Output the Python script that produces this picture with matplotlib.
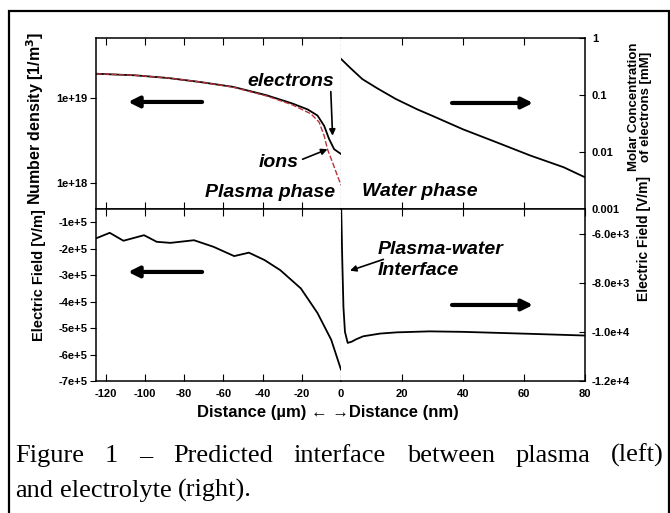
import numpy as np
import matplotlib
matplotlib.use("Agg")
import matplotlib.pyplot as plt
from matplotlib.ticker import NullLocator
from matplotlib.patches import Rectangle

# fonts
plt.rcParams['font.family'] = ['Liberation Sans', 'DejaVu Sans']
plt.rcParams['font.weight'] = 'bold'
plt.rcParams['axes.labelweight'] = 'bold'
plt.rcParams['axes.linewidth'] = 1.1

#=============================
# data
#=============================

# plasma side, number density (x in um)
x_ne_um = [-125, -105, -88, -72, -55, -38, -25, -17, -12, -8.6, -6.1, -3.5, 0]
n_electrons = [1.91e19, 1.83e19, 1.70e19, 1.53e19, 1.34e19, 1.07e19, 8.6e18,
               7.3e18, 6.2e18, 4.7e18, 3.3e18, 2.5e18, 2.2e18]
x_ni_um = [-125, -105, -88, -72, -55, -38, -25, -15.4, -11.2, -8.6, -6.9, -4.3, -1.8, 0]
n_ions = [1.91e19, 1.83e19, 1.70e19, 1.53e19, 1.33e19, 1.05e19, 8.3e18,
          6.5e18, 5.2e18, 3.6e18, 2.5e18, 1.75e18, 1.22e18, 0.95e18]

# water side, molar concentration of electrons (x in nm)
x_conc_nm = [0, 3, 7, 12, 18, 25, 30, 40, 51, 62, 73, 80]
conc_mM = [0.43, 0.30, 0.19, 0.13, 0.085, 0.056, 0.043, 0.025, 0.0148, 0.0087, 0.0054, 0.0036]

# plasma side, electric field
x_ep_um = [-125, -118, -111, -100.5, -94, -87, -75, -65, -54.5, -47, -39, -31, -20.5, -12, -5, 0]
e_plasma = [-1.61e5, -1.40e5, -1.70e5, -1.49e5, -1.74e5, -1.78e5, -1.68e5, -1.93e5,
            -2.28e5, -2.15e5, -2.43e5, -2.81e5, -3.5e5, -4.43e5, -5.44e5, -6.57e5]

# water side, electric field
x_ew_nm = [0, 0.4, 0.8, 1.3, 2.2, 3.5, 5, 7.3, 12.8, 18.3, 29, 40, 51, 62, 80]
e_water = [-4.5e3, -7.0e3, -9.0e3, -1.0e4, -1.045e4, -1.04e4, -1.03e4, -1.018e4,
           -1.007e4, -1.002e4, -9.98e3, -1.0e4, -1.004e4, -1.008e4, -1.015e4]

# ticks
xt_left = [-120, -100, -80, -60, -40, -20]
xt_right = [20, 40, 60, 80]
yt_n = [1e18, 1e19]
yt_n_lab = ['1e+18', '1e+19']
yt_c = [1e-3, 1e-2, 1e-1, 1]
yt_c_lab = ['0.001', '0.01', '0.1', '1']
yt_ep = [-1e5, -2e5, -3e5, -4e5, -5e5, -6e5, -7e5]
yt_ep_lab = ['-1e+5', '-2e+5', '-3e+5', '-4e+5', '-5e+5', '-6e+5', '-7e+5']
yt_ew = [-6e3, -8e3, -1e4, -1.2e4]
yt_ew_lab = ['-6.0e+3', '-8.0e+3', '-1.0e+4', '-1.2e+4']

#=============================
# figure layout
#=============================

W, H = 670, 513
fig = plt.figure(figsize=(W / 100, H / 100), dpi=100)

def box(x0, y0, x1, y1):
    return [x0 / W, 1 - y1 / H, (x1 - x0) / W, (y1 - y0) / H]

ax_nl = fig.add_axes(box(96, 38, 341, 209))
ax_nr = fig.add_axes(box(341, 38, 585, 209))
ax_el = fig.add_axes(box(96, 209, 341, 381))
ax_er = fig.add_axes(box(341, 209, 585, 381))

# outer frame (open at the bottom)
fig.patches.append(Rectangle((9 / W, -0.2), 660 / W, 1.2 - 11 / H, transform=fig.transFigure,
                             fill=False, lw=1.6, ec='black', clip_on=False))

lw = 1.3
ax_nl.plot(x_ne_um, n_electrons, color='black', lw=lw)
ax_nl.plot(x_ni_um, n_ions, color='#b8343c', lw=1.0, ls=(0, (4, 1.5)))
ax_nr.plot(x_conc_nm, conc_mM, color='black', lw=lw)
ax_el.plot(x_ep_um, e_plasma, color='black', lw=lw)
ax_er.plot(x_ew_nm, e_water, color='black', lw=lw)

for ax in (ax_nl, ax_nr):
    ax.set_yscale('log')
    ax.yaxis.set_minor_locator(NullLocator())

ax_nl.set_ylim(5e17, 5e19)
ax_nl.set_yticks(yt_n, yt_n_lab)
ax_nr.set_ylim(1e-3, 1)
ax_nr.set_yticks(yt_c, yt_c_lab)
ax_el.set_ylim(-7e5, -0.5e5)
ax_el.set_yticks(yt_ep, yt_ep_lab)
ax_er.set_ylim(-1.2e4, -5e3)
ax_er.set_yticks(yt_ew, yt_ew_lab)

for ax in (ax_nl, ax_el):
    ax.set_xlim(-125, 0)
    ax.spines['right'].set_visible(False)
    ax.tick_params(axis='y', direction='out', length=4, pad=2, labelsize=8)
    ax.axvline(0, color='black', lw=0.8, ls=(0, (2, 1.5)), clip_on=False)
for ax in (ax_nr, ax_er):
    ax.set_xlim(0, 80)
    ax.spines['left'].set_visible(False)
    ax.yaxis.tick_right()
    ax.tick_params(axis='y', direction='in', length=4, pad=5, labelsize=8)

ax_nl.set_xticks(xt_left)
ax_nr.set_xticks(xt_right[:-1])
ax_el.set_xticks(xt_left + [0], [str(v) for v in xt_left] + ['0'])
ax_er.set_xticks(xt_right, [str(v) for v in xt_right])
for ax in (ax_nl, ax_nr, ax_el, ax_er):
    ax.tick_params(axis='x', direction='in', top=True, bottom=True, length=5,
                   labelsize=8, pad=6)
for ax in (ax_nl, ax_nr):
    ax.tick_params(axis='x', labelbottom=False)

# axis labels
ax_nl.set_ylabel('Number density [1/m$^\\mathbf{3}$]', fontsize=11.5)
ax_nl.yaxis.set_label_coords(-0.205, 0.53)
ax_el.set_ylabel('Electric Field [V/m]', fontsize=10.5)
ax_el.yaxis.set_label_coords(-0.205, 0.615)
ax_nr.text(1.225, 0.596, 'Molar Concentration\nof electrons [mM]', transform=ax_nr.transAxes,
           rotation=90, ha='center', va='center', multialignment='center', fontsize=9.5,
           linespacing=1.05)
ax_er.text(1.24, 0.83, 'Electric Field [V/m]', transform=ax_er.transAxes,
           rotation=90, ha='center', va='center', fontsize=10)
fig.text(328 / W, 1 - 413 / H, 'Distance (\u00b5m) \u2190 \u2192Distance (nm)',
         ha='center', va='center', fontsize=12)

# annotations
ital = dict(fontsize=14, style='italic', weight='bold')
thin = dict(arrowstyle='-|>', color='black', lw=1.2, mutation_scale=9, shrinkA=0, shrinkB=0)
ax_nl.annotate('', xy=(-4.3, 3.6e18), xytext=(-5.2, 1.18e19), arrowprops=thin)
ax_nl.text(-3.5, 1.54e19, 'electrons', ha='right', va='center', **ital)
ax_nl.annotate('', xy=(-6.9, 2.5e18), xytext=(-19.6, 1.91e18), arrowprops=thin)
ax_nl.text(-32, 1.77e18, 'ions', ha='center', va='center', **ital)
ax_nl.text(-3.2, 7.8e17, 'Plasma phase', ha='right', va='center', **ital)
ax_nr.text(6.9, 2.0e-3, 'Water phase', ha='left', va='center', **ital)
ax_er.annotate('', xy=(2.95, -7.51e3), xytext=(13.9, -7.05e3), arrowprops=thin)
ax_er.text(12.1, -7.08e3, 'Plasma-water\nInterface', ha='left', va='center',
           linespacing=1.25, **ital)

# big direction arrows
thick = dict(arrowstyle='-|>', color='black', lw=3, mutation_scale=16, shrinkA=0, shrinkB=0)
ax_nl.annotate('', xy=(0.131, 0.626), xytext=(0.433, 0.626), xycoords='axes fraction', arrowprops=thick)
ax_nr.annotate('', xy=(0.787, 0.62), xytext=(0.455, 0.62), xycoords='axes fraction', arrowprops=thick)
ax_el.annotate('', xy=(0.131, 0.634), xytext=(0.433, 0.634), xycoords='axes fraction', arrowprops=thick)
ax_er.annotate('', xy=(0.787, 0.442), xytext=(0.455, 0.442), xycoords='axes fraction', arrowprops=thick)

#=============================
# caption, first line justified
#=============================

def caption_line(line, y_px, x0_px, x1_px=None, size=19):
    words = line.split()
    texts = [fig.text(0, 1 - y_px / H, w, fontsize=size, family='Liberation Serif',
                      weight='normal', va='baseline') for w in words]
    fig.canvas.draw()
    r = fig.canvas.get_renderer()
    widths = [t.get_window_extent(r).width for t in texts]
    if x1_px is None:
        gap = size * 0.25 * 100 / 72
    else:
        gap = (x1_px - x0_px - sum(widths)) / (len(words) - 1)
    x = x0_px
    for t, w in zip(texts, widths):
        t.set_x(x / W)
        x += w + gap

caption_line('Figure 1 \u2013 Predicted interface between plasma (left)', 462, 15, 664)
caption_line('and electrolyte (right).', 497, 15)

fig.savefig('out.png', dpi=100)
